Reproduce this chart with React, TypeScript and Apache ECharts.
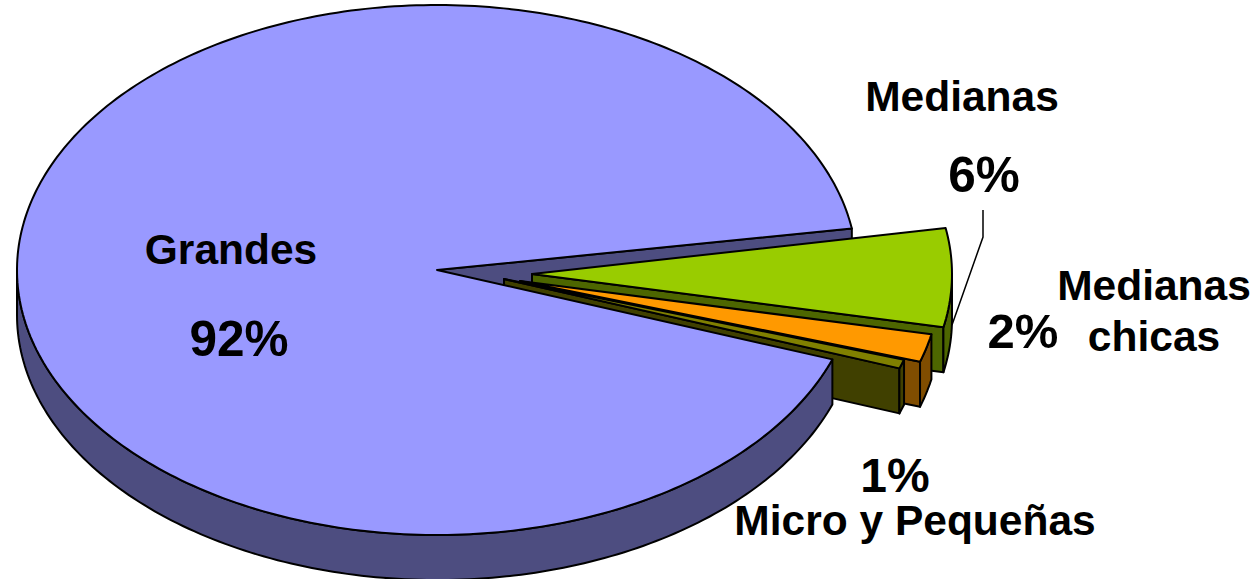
import React, { useEffect, useRef } from "react";
import * as echarts from "echarts";

const categories = ["Medianas", "Medianas\nchicas", "Micro y Pequeñas", "Grandes"];
const values = [6.0, 1.7, 0.55, 91.7];
const percentLabels = ["6%", "2%", "1%", "92%"];

const topColors = ["#99CC00", "#FF9900", "#808000", "#9999FF"];
const sideColors = ["#4D6600", "#804D00", "#404000", "#4D4D80"];
const explode = [[95, 4], [83, 11], [67, 9], [0, 0]];
const START_DEG = -10;
const LAST_SLICE_OVERRUN_DEG = 1;
const CX = 437, CY = 270, RX = 420, RY = 265, DEPTH = 45;
const total = values.reduce((a, b) => a + b, 0);
const spans = values.map((v) => (v / total) * 360);

const pt = (i: number, deg: number, drop = 0) => {
  const r = (deg * Math.PI) / 180;
  return [
    CX + explode[i][0] + RX * Math.cos(r),
    CY + explode[i][1] + RY * Math.sin(r) + drop,
  ];
};
const arc = (i: number, a: number, b: number, drop = 0) => {
  const pts: number[][] = [];
  const n = Math.max(2, Math.ceil(Math.abs(b - a)));
  for (let k = 0; k <= n; k++) pts.push(pt(i, a + ((b - a) * k) / n, drop));
  return pts;
};
const apex = (i: number, drop = 0) => [CX + explode[i][0], CY + explode[i][1] + drop];
const edge = { stroke: "#000", lineWidth: 2, lineJoin: "round" };
const poly = (points: number[][], fill: string, z2: number) => ({
  type: "polygon",
  z2,
  shape: { points },
  style: { fill, ...edge },
});

function renderSlice(params: any) {
  const i = params.dataIndex;
  const a = START_DEG + spans.slice(0, i).reduce((s, v) => s + v, 0);
  const isLast = i === values.length - 1;
  const b = a + spans[i] + (isLast ? LAST_SLICE_OVERRUN_DEG : 0);
  const base = isLast ? 30 : 10 + i * 5;
  const children: any[] = [];
  if (isLast) {
    // cut wall seen in the wedge left by the exploded slices, drawn behind them
    children.push(poly([apex(i), pt(i, b), pt(i, b, DEPTH), apex(i, DEPTH)], sideColors[i], 1));
    children.push(poly([...arc(i, a, 180), ...arc(i, 180, a, DEPTH)], sideColors[i], base));
  } else {
    const from = Math.max(a, 0);
    children.push(poly([apex(i), pt(i, b), pt(i, b, DEPTH), apex(i, DEPTH)], sideColors[i], base));
    children.push(poly([...arc(i, from, b), ...arc(i, b, from, DEPTH)], sideColors[i], base + 1));
  }
  children.push(poly([apex(i), ...arc(i, a, b)], topColors[i], base + 2));
  return { type: "group", children };
}

const text = (t: string, x: number, y: number, size: number, extra: any = {}) => ({
  type: "text",
  z: 10,
  x,
  y,
  style: {
    text: t,
    fill: "#000",
    font: `bold ${size}px "Liberation Sans", Arial, sans-serif`,
    textAlign: "center",
    textVerticalAlign: "middle",
    ...extra,
  },
});

export default function App() {
  const ref = useRef<HTMLDivElement>(null);
  useEffect(() => {
    document.body.style.margin = "0";
    const chart = echarts.init(ref.current!, null, { renderer: "svg" });
    chart.setOption({
      animation: false,
      backgroundColor: "#fff",
      series: [
        {
          type: "custom",
          coordinateSystem: "none",
          silent: true,
          clip: false,
          data: values.map((v) => [v]),
          renderItem: renderSlice,
        },
      ],
      graphic: [
        {
          type: "polyline",
          z: 9,
          shape: { points: [[983, 210], [983, 237], [952, 325]] },
          style: { stroke: "#000", lineWidth: 1.5, fill: "none" },
        },
        text(categories[3], 231, 249, 42.5),
        text(percentLabels[3], 239, 338, 49.5),
        text(categories[0], 962, 96, 42.5),
        text(percentLabels[0], 984, 174, 49.5),
        text(categories[1], 1154, 311, 42.5, { lineHeight: 51 }),
        text(percentLabels[1], 1023, 331, 49),
        text(percentLabels[2], 895, 475, 48),
        text(categories[2], 915, 520, 42.5),
      ],
    });
    return () => chart.dispose();
  }, []);
  return <div ref={ref} style={{ width: 1256, height: 579 }} />;
}
